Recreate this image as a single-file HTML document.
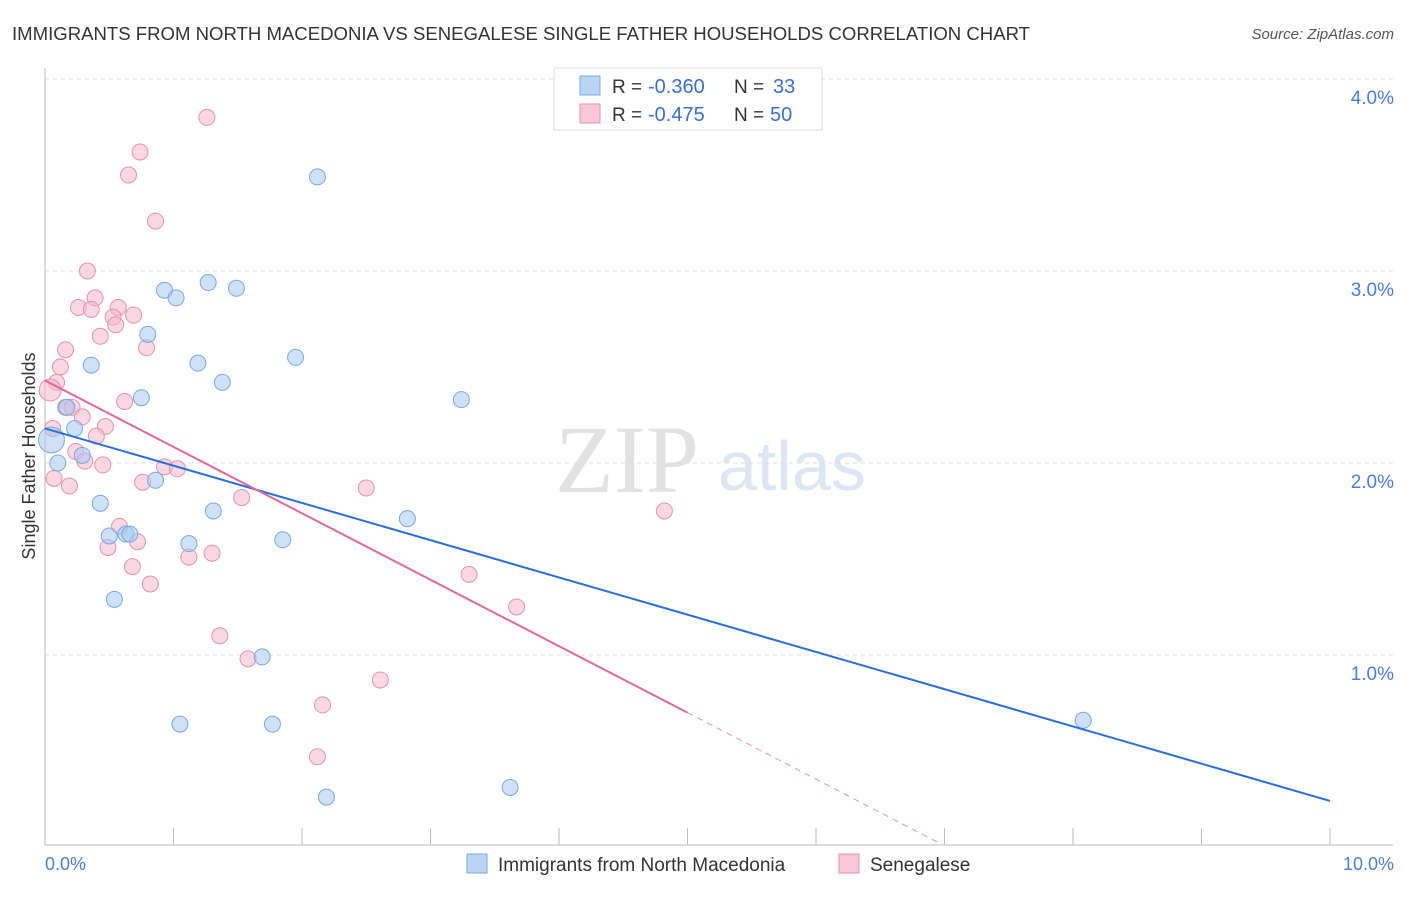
<!DOCTYPE html>
<html><head><meta charset="utf-8"><style>
body{margin:0;background:#fff;font-family:"Liberation Sans",sans-serif;}
</style></head><body>
<svg id="c" width="1406" height="892" xmlns="http://www.w3.org/2000/svg">
<text x="12" y="40" font-size="18" fill="#333" textLength="1018" lengthAdjust="spacingAndGlyphs">IMMIGRANTS FROM NORTH MACEDONIA VS SENEGALESE SINGLE FATHER HOUSEHOLDS CORRELATION CHART</text>
<text x="1394" y="39" font-size="15" fill="#555" font-style="italic" text-anchor="end">Source: ZipAtlas.com</text>
<text x="555" y="492" font-size="96" fill="#e2e2e2" font-family="Liberation Serif">ZIP</text>
<text x="718" y="490" font-size="70" fill="#dde6f3">atlas</text>
<g id="grid"></g>
<g id="pts"></g>
<g id="lines"></g>
<text x="35" y="456" font-size="18" fill="#333" transform="rotate(-90 35 456)" text-anchor="middle">Single Father Households</text>
<text x="45" y="870" font-size="18" fill="#4a7fd4">0.0%</text>
<text x="1394" y="870" font-size="18" fill="#4a7fd4" text-anchor="end">10.0%</text>
<g>
<rect x="554" y="68" width="268" height="62" fill="#fff" stroke="#ddd"/>
<rect x="580" y="76" width="20" height="19" fill="#bcd4f4" stroke="#7aa8e0"/>
<rect x="580" y="104" width="20" height="19" fill="#f8c8d8" stroke="#e890b0"/>
<text x="612" y="93" font-size="19" fill="#333">R =</text>
<text x="648" y="93" font-size="20" fill="#3a70d0">-0.360</text>
<text x="734" y="93" font-size="19" fill="#333">N =</text>
<text x="773" y="93" font-size="20" fill="#3a70d0">33</text>
<text x="612" y="121" font-size="19" fill="#333">R =</text>
<text x="648" y="121" font-size="20" fill="#3a70d0">-0.475</text>
<text x="734" y="121" font-size="19" fill="#333">N =</text>
<text x="770" y="121" font-size="20" fill="#3a70d0">50</text>
</g>
<g>
<rect x="467" y="854" width="20" height="19" fill="#bcd4f4" stroke="#7aa8e0"/>
<text x="498" y="871" font-size="19" fill="#333">Immigrants from North Macedonia</text>
<rect x="839" y="854" width="20" height="19" fill="#f8c8d8" stroke="#e890b0"/>
<text x="870" y="871" font-size="19" fill="#333">Senegalese</text>
</g>
</svg>
<script>
const yTicks=[1,2,3,4];
const xTicks=[0,1,2,3,4,5,6,7,8,9,10];
const blueX=[2.12,1.27,1.49,0.93,1.02,0.80,1.95,0.36,1.19,1.38,0.75,3.24,0.17,0.23,0.05,0.10,0.29,0.86,0.43,1.31,2.82,0.50,0.63,0.66,1.12,1.85,0.54,1.69,1.05,1.77,8.08,2.19,3.62];
const blueY=[3.49,2.94,2.91,2.90,2.86,2.67,2.55,2.51,2.52,2.42,2.34,2.33,2.29,2.18,2.12,2.00,2.04,1.91,1.79,1.75,1.71,1.62,1.63,1.63,1.58,1.60,1.29,0.99,0.64,0.64,0.66,0.26,0.31];
const pinkX=[1.26,0.74,0.65,0.86,0.33,0.39,0.26,0.36,0.57,0.69,0.53,0.55,0.43,0.79,0.16,0.12,0.09,0.04,0.16,0.21,0.29,0.06,0.47,0.40,0.24,0.31,0.45,0.93,1.03,0.76,0.07,0.19,1.53,2.50,4.82,0.58,0.72,0.49,0.68,1.12,1.30,0.82,3.30,3.67,1.36,1.58,2.61,2.16,2.12,0.62];
const pinkY=[3.80,3.62,3.50,3.26,3.00,2.86,2.81,2.80,2.81,2.77,2.76,2.72,2.66,2.60,2.59,2.50,2.42,2.38,2.29,2.29,2.24,2.18,2.19,2.14,2.06,2.01,1.99,1.98,1.97,1.90,1.92,1.88,1.82,1.87,1.75,1.67,1.59,1.56,1.46,1.51,1.53,1.37,1.42,1.25,1.10,0.98,0.87,0.74,0.47,2.32];
const blueLine=[[0,2.18],[10,0.24]];
const pinkLine=[[0,2.43],[5.0,0.70]];
const pinkDash=[[5.0,0.70],[6.96,0.02]];
const X=v=>45+v*128.5, Y=v=>847-v*192;
const NS='http://www.w3.org/2000/svg';
function mk(t,a,p){const e=document.createElementNS(NS,t);for(const k in a)e.setAttribute(k,a[k]);p.appendChild(e);return e;}
const g=document.getElementById('grid');
yTicks.forEach(v=>{const l=mk('line',{x1:45,x2:1393,y1:Y(v),y2:Y(v),stroke:'#ddd','stroke-dasharray':'4,4'},g);


const t=mk('text',{x:1394,y:Y(v)+25,'font-size':19,fill:'#4a7fd4','text-anchor':'end'},g);t.textContent=v.toFixed(1)+'%';

});
xTicks.forEach(v=>{const l=mk('line',{x1:X(v),x2:X(v),y1:828,y2:845,stroke:'#bbb'},g);

});
const ax=mk('path',{d:'M45 68 V845 H1393',fill:'none',stroke:'#bbb'},g);


const p=document.getElementById('pts');
pinkX.forEach((v,i)=>{const c=mk('circle',{cx:X(v),cy:Y(pinkY[i]),r:i==17?11:8,fill:'#f4b8cc','fill-opacity':0.55,stroke:'#e890b0','stroke-width':1},p);

});
blueX.forEach((v,i)=>{const c=mk('circle',{cx:X(v),cy:Y(blueY[i]),r:i==14?13:8,fill:'#a8c8f0','fill-opacity':0.55,stroke:'#7aa8e0','stroke-width':1},p);

});
const L=document.getElementById('lines');
const b=mk('line',{x1:X(blueLine[0][0]),y1:Y(blueLine[0][1]),x2:X(blueLine[1][0]),y2:Y(blueLine[1][1]),stroke:'#2a6fd6','stroke-width':2},L);


const pk=mk('line',{x1:X(pinkLine[0][0]),y1:Y(pinkLine[0][1]),x2:X(pinkLine[1][0]),y2:Y(pinkLine[1][1]),stroke:'#e0689a','stroke-width':2},L);


const pd=mk('line',{x1:X(pinkDash[0][0]),y1:Y(pinkDash[0][1]),x2:X(pinkDash[1][0]),y2:Y(pinkDash[1][1]),stroke:'#e890b0','stroke-width':1,'stroke-dasharray':'6,5'},L);


</script>
</body></html>
